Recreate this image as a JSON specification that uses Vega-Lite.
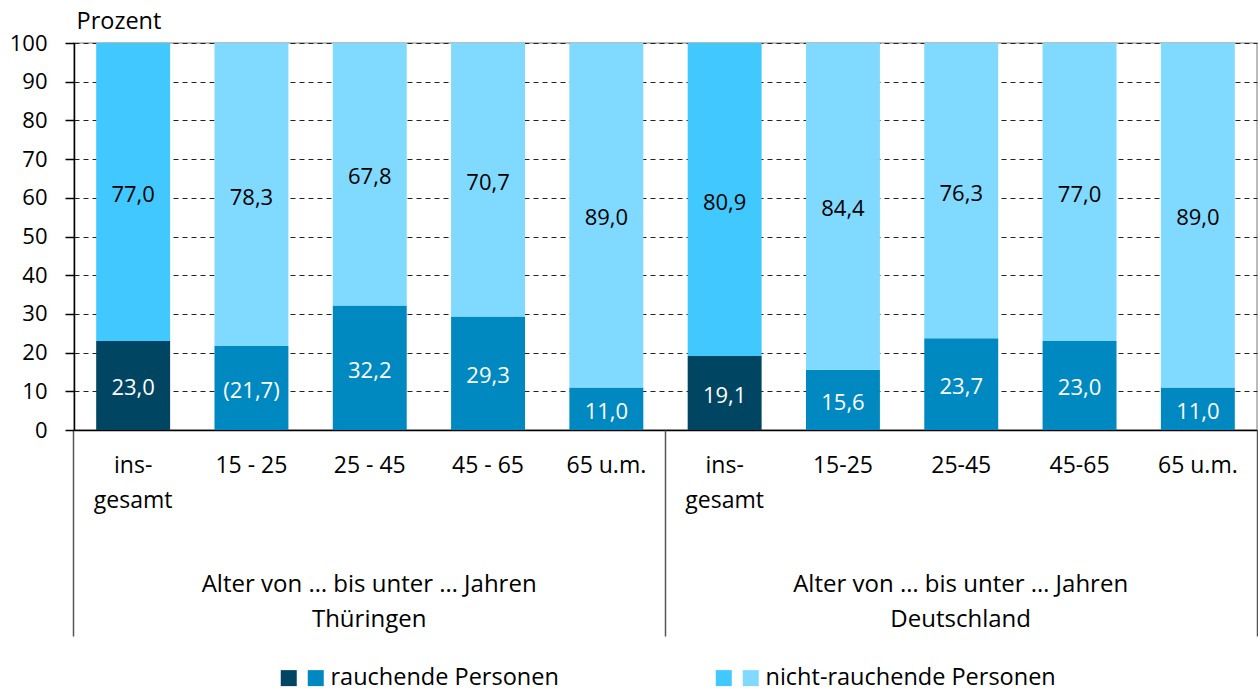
{
  "$schema": "https://vega.github.io/schema/vega-lite/v6.json",
  "width": 1183,
  "height": 387,
  "autosize": {"type": "none"},
  "padding": {"left": 74, "top": 43, "right": 1, "bottom": 261},
  "background": "white",
  "config": {
    "font": "Open Sans",
    "view": {"stroke": "#a6a6a6", "strokeWidth": 1.5}
  },
  "data": {
    "values": [
      {"id": 1, "typ": "r", "ord": 0, "kat": "r_ges", "v": 23.0, "lab": "23,0"},
      {"id": 1, "typ": "n", "ord": 1, "kat": "n_ges", "v": 77.0, "lab": "77,0"},
      {"id": 2, "typ": "r", "ord": 0, "kat": "r_alt", "v": 21.7, "lab": "(21,7)"},
      {"id": 2, "typ": "n", "ord": 1, "kat": "n_alt", "v": 78.3, "lab": "78,3"},
      {"id": 3, "typ": "r", "ord": 0, "kat": "r_alt", "v": 32.2, "lab": "32,2"},
      {"id": 3, "typ": "n", "ord": 1, "kat": "n_alt", "v": 67.8, "lab": "67,8"},
      {"id": 4, "typ": "r", "ord": 0, "kat": "r_alt", "v": 29.3, "lab": "29,3"},
      {"id": 4, "typ": "n", "ord": 1, "kat": "n_alt", "v": 70.7, "lab": "70,7"},
      {"id": 5, "typ": "r", "ord": 0, "kat": "r_alt", "v": 11.0, "lab": "11,0"},
      {"id": 5, "typ": "n", "ord": 1, "kat": "n_alt", "v": 89.0, "lab": "89,0"},
      {"id": 6, "typ": "r", "ord": 0, "kat": "r_ges", "v": 19.1, "lab": "19,1"},
      {"id": 6, "typ": "n", "ord": 1, "kat": "n_ges", "v": 80.9, "lab": "80,9"},
      {"id": 7, "typ": "r", "ord": 0, "kat": "r_alt", "v": 15.6, "lab": "15,6"},
      {"id": 7, "typ": "n", "ord": 1, "kat": "n_alt", "v": 84.4, "lab": "84,4"},
      {"id": 8, "typ": "r", "ord": 0, "kat": "r_alt", "v": 23.7, "lab": "23,7"},
      {"id": 8, "typ": "n", "ord": 1, "kat": "n_alt", "v": 76.3, "lab": "76,3"},
      {"id": 9, "typ": "r", "ord": 0, "kat": "r_alt", "v": 23.0, "lab": "23,0"},
      {"id": 9, "typ": "n", "ord": 1, "kat": "n_alt", "v": 77.0, "lab": "77,0"},
      {"id": 10, "typ": "r", "ord": 0, "kat": "r_alt", "v": 11.0, "lab": "11,0"},
      {"id": 10, "typ": "n", "ord": 1, "kat": "n_alt", "v": 89.0, "lab": "89,0"}
    ]
  },
  "resolve": {"axis": {"x": "independent"}, "scale": {"fill": "independent"}},
  "layer": [
    {
      "mark": {"type": "bar", "strokeWidth": 0},
      "encoding": {
        "x": {
          "field": "id", "type": "ordinal",
          "scale": {"paddingInner": 0.375, "paddingOuter": 0.1875},
          "axis": {
            "orient": "bottom", "title": null, "ticks": false, "grid": false,
            "domain": true, "domainColor": "#000", "domainWidth": 1.5,
            "labelAngle": 0, "labelFontSize": 23, "labelColor": "#000",
            "labelPadding": 24, "labelLineHeight": 35, "labelOverlap": false, "labelBound": false, "labelFlush": false, "labelLimit": 1000,
            "labelExpr": "datum.value == 1 || datum.value == 6 ? ['ins-', 'gesamt'] : datum.value == 2 ? '15 - 25' : datum.value == 3 ? '25 - 45' : datum.value == 4 ? '45 - 65' : datum.value == 7 ? '15-25' : datum.value == 8 ? '25-45' : datum.value == 9 ? '45-65' : '65 u.m.'"
          }
        },
        "y": {
          "field": "v", "type": "quantitative", "stack": "zero",
          "scale": {"domain": [0, 100], "nice": false},
          "axis": {
            "values": [0, 10, 20, 30, 40, 50, 60, 70, 80, 90, 100],
            "labelOverlap": false,
            "title": "Prozent", "titleAngle": 0, "titleAlign": "left", "titleBaseline": "middle",
            "titleX": 2, "titleY": -22, "titleFontSize": 23.5, "titleFontWeight": "normal", "titleColor": "#000",
            "labelFontSize": 22, "labelColor": "#000", "labelPadding": 18,
            "domainColor": "#000", "domainWidth": 1.5,
            "tickColor": "#000", "tickSize": 9, "tickWidth": 1.5,
            "grid": true, "gridDash": [5, 4], "gridWidth": 1, "gridColor": "#222"
          }
        },
        "fill": {
          "field": "kat", "type": "nominal",
          "scale": {"domain": ["r_ges", "r_alt", "n_ges", "n_alt"], "range": ["#004561", "#0089c1", "#40c8ff", "#80d9ff"]},
          "legend": {
            "orient": "none", "legendX": 203, "legendY": 623,
            "values": ["r_ges", "r_alt"],
            "direction": "horizontal", "columns": 2, "title": null,
            "symbolType": "square", "symbolSize": 256, "symbolStrokeWidth": 0,
            "labelFontSize": 23.5, "labelColor": "#000", "labelOffset": 3, "labelLimit": 1000,
            "columnPadding": 0,
            "labelExpr": "datum.value == 'r_alt' ? 'rauchende Personen' : ''"
          }
        },
        "order": {"field": "ord", "type": "quantitative"}
      }
    },
    {
      "mark": {"type": "text", "fontSize": 22, "dy": 3},
      "encoding": {
        "x": {
          "field": "id", "type": "ordinal",
          "axis": {
            "orient": "bottom", "title": null, "grid": false, "domain": false,
            "values": [1, 6], "bandPosition": -0.3,
            "ticks": true, "tickSize": 206, "tickColor": "#555", "tickWidth": 1.5,
            "labelFontSize": 24, "labelColor": "#000", "labelAngle": 0,
            "labelPadding": -64, "labelOffset": 236, "labelLineHeight": 35, "labelLimit": 1000,
            "labelOverlap": false, "labelBound": false, "labelFlush": false,
            "labelExpr": "datum.value == 1 ? ['Alter von … bis unter … Jahren', 'Thüringen'] : ['Alter von … bis unter … Jahren', 'Deutschland']"
          }
        },
        "y": {
          "field": "v", "type": "quantitative", "stack": "zero", "bandPosition": 0.5,
          "axis": {
            "values": [0, 10, 20, 30, 40, 50, 60, 70, 80, 90, 100],
            "labelOverlap": false,
            "title": "Prozent", "titleAngle": 0, "titleAlign": "left", "titleBaseline": "middle",
            "titleX": 2, "titleY": -22, "titleFontSize": 23.5, "titleFontWeight": "normal", "titleColor": "#000",
            "labelFontSize": 22, "labelColor": "#000", "labelPadding": 18,
            "domainColor": "#000", "domainWidth": 1.5,
            "tickColor": "#000", "tickSize": 9, "tickWidth": 1.5,
            "grid": true, "gridDash": [5, 4], "gridWidth": 1, "gridColor": "#222"
          }
        },
        "fill": {
          "field": "kat", "type": "nominal",
          "scale": {"domain": ["n_ges", "n_alt", "r_ges", "r_alt"], "range": ["#40c8ff", "#80d9ff", "#ffffff", "#ffffff"]},
          "legend": {
            "orient": "none", "legendX": 638, "legendY": 623,
            "values": ["n_ges", "n_alt"],
            "direction": "horizontal", "columns": 2, "title": null,
            "symbolType": "square", "symbolSize": 256, "symbolStrokeWidth": 0, "symbolOpacity": 1,
            "labelFontSize": 23.5, "labelColor": "#000", "labelOffset": 3, "labelLimit": 1000,
            "columnPadding": 0,
            "labelExpr": "datum.value == 'n_alt' ? 'nicht-rauchende Personen' : ''"
          }
        },
        "detail": {"field": "typ"},
        "order": {"field": "ord", "type": "quantitative"},
        "text": {"condition": {"test": "datum.typ == 'r'", "field": "lab"}, "value": ""}
      }
    },
    {
      "mark": {"type": "text", "fontSize": 22, "color": "#000", "dy": 3},
      "encoding": {
        "x": {
          "field": "id", "type": "ordinal",
          "axis": {
            "orient": "bottom", "title": null, "grid": false, "domain": false,
            "values": [10], "bandPosition": 1.3,
            "ticks": true, "tickSize": 206, "tickColor": "#555", "tickWidth": 1.5,
            "labels": false
          }
        },
        "y": {
          "field": "v", "type": "quantitative", "stack": "zero", "bandPosition": 0.5,
          "axis": {
            "values": [0, 10, 20, 30, 40, 50, 60, 70, 80, 90, 100],
            "labelOverlap": false,
            "title": "Prozent", "titleAngle": 0, "titleAlign": "left", "titleBaseline": "middle",
            "titleX": 2, "titleY": -22, "titleFontSize": 23.5, "titleFontWeight": "normal", "titleColor": "#000",
            "labelFontSize": 22, "labelColor": "#000", "labelPadding": 18,
            "domainColor": "#000", "domainWidth": 1.5,
            "tickColor": "#000", "tickSize": 9, "tickWidth": 1.5,
            "grid": true, "gridDash": [5, 4], "gridWidth": 1, "gridColor": "#222"
          }
        },
        "detail": {"field": "typ"},
        "order": {"field": "ord", "type": "quantitative"},
        "text": {"condition": {"test": "datum.typ == 'n'", "field": "lab"}, "value": ""}
      }
    }
  ]
}
